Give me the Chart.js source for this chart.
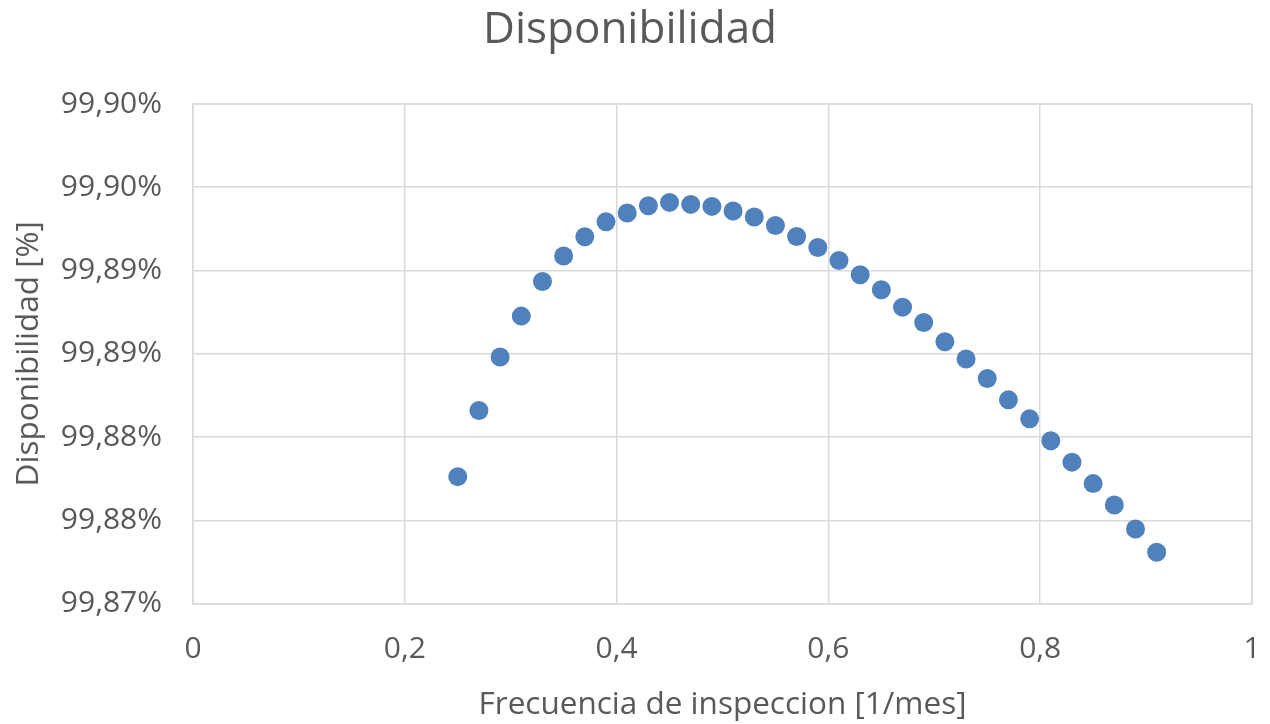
<!DOCTYPE html>
<html>
<head>
<meta charset="utf-8">
<script src="https://cdn.jsdelivr.net/npm/chart.js@4.4.1/dist/chart.umd.min.js"></script>
<style>
  html, body { margin: 0; padding: 0; background: #ffffff; }
  #wrap { width: 1270px; height: 724px; position: relative; }
</style>
</head>
<body>
<div id="wrap"><canvas id="chart" width="1270" height="724"></canvas></div>
<script>
// Inspection frequency [1/month]
const frecuencia = [
  0.25, 0.27, 0.29, 0.31, 0.33, 0.35, 0.37, 0.39, 0.41, 0.43, 0.45, 0.47,
  0.49, 0.51, 0.53, 0.55, 0.57, 0.59, 0.61, 0.63, 0.65, 0.67, 0.69, 0.71,
  0.73, 0.75, 0.77, 0.79, 0.81, 0.83, 0.85, 0.87, 0.89, 0.91
];
// Availability [%]
const disponibilidad = [
  99.87762, 99.88159, 99.88481, 99.88726, 99.88934, 99.89087, 99.89203, 99.89293,
  99.89345, 99.89389, 99.89409, 99.89397, 99.89385, 99.89357, 99.89321, 99.89270,
  99.89204, 99.89138, 99.89060, 99.88974, 99.88884, 99.88780, 99.88688, 99.88572,
  99.88469, 99.88351, 99.88223, 99.88109, 99.87978, 99.87849, 99.87720, 99.87592,
  99.87448, 99.87308
];
// Axis ranges and steps
const xTicks = { min: 0, max: 1, step: 0.2 };
const yTicks = { min: 99.87, max: 99.90, step: 0.005 };

const points = frecuencia.map((x, i) => ({ x: x, y: disponibilidad[i] }));

const grey = '#595959';
const gridColor = '#d9d9d9';
const family = '"Open Sans", "Noto Sans", sans-serif';

const fmtComma = v => String(Math.round(v * 10) / 10).replace('.', ',');
const fmtPct = v => (Math.round(v * 100 + 1e-6) / 100).toFixed(2).replace('.', ',') + '%';

new Chart(document.getElementById('chart'), {
  type: 'scatter',
  data: {
    datasets: [{
      label: 'Disponibilidad',
      data: points,
      backgroundColor: '#4f81bd',
      borderColor: '#4f81bd',
      borderWidth: 0,
      pointRadius: 9.5,
      pointHoverRadius: 9.5
    }]
  },
  options: {
    responsive: false,
    animation: false,
    layout: { padding: { left: 8, right: 18, top: 0, bottom: 0 } },
    plugins: {
      legend: { display: false },
      tooltip: { enabled: false },
      title: {
        display: true,
        text: 'Disponibilidad',
        color: grey,
        font: { family: family, size: 44, weight: 'normal', lineHeight: 1.0 },
        padding: { top: 8, bottom: 52 }
      }
    },
    scales: {
      x: {
        type: 'linear',
        min: xTicks.min,
        max: xTicks.max,
        afterFit: s => { s.height = 120.5; s.paddingLeft = 0; s.paddingRight = 0; },
        ticks: {
          stepSize: xTicks.step,
          color: grey,
          padding: 28,
          font: { family: family, size: 30 },
          callback: v => fmtComma(v)
        },
        grid: { color: gridColor, lineWidth: 1.5, drawTicks: false },
        border: { color: gridColor, width: 1.5 },
        title: {
          display: true,
          text: 'Frecuencia de inspeccion [1/mes]',
          color: grey,
          font: { family: family, size: 31.5 },
          padding: { top: 10, bottom: 0 }
        }
      },
      y: {
        type: 'linear',
        min: yTicks.min,
        max: yTicks.max,
        afterFit: s => { s.width = 185; },
        ticks: {
          stepSize: yTicks.step,
          color: grey,
          padding: 31,
          font: { family: family, size: 30 },
          callback: v => fmtPct(v)
        },
        grid: { color: gridColor, lineWidth: 1.5, drawTicks: false },
        border: { color: gridColor, width: 1.5 },
        title: {
          display: true,
          text: 'Disponibilidad [%]',
          color: grey,
          font: { family: family, size: 31.5 },
          padding: { top: 2, bottom: 0 }
        }
      }
    }
  },
  plugins: [{
    id: 'frameRight',
    afterDraw(chart) {
      const { ctx, chartArea: a } = chart;
      ctx.save();
      ctx.strokeStyle = gridColor;
      ctx.lineWidth = 1.5;
      ctx.beginPath();
      ctx.moveTo(a.right, a.top);
      ctx.lineTo(a.right, a.bottom);
      ctx.moveTo(a.left, a.top);
      ctx.lineTo(a.right, a.top);
      ctx.stroke();
      ctx.restore();
    }
  }]
});
</script>
</body>
</html>
